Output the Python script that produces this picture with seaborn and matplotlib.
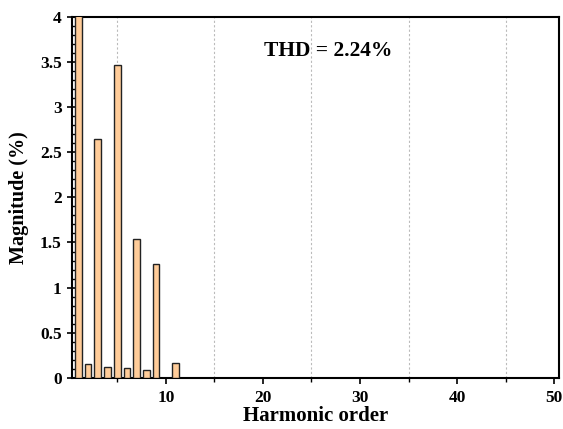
import matplotlib
matplotlib.use("Agg")
import matplotlib.pyplot as plt
import seaborn as sns
import pandas as pd
from matplotlib.ticker import MultipleLocator

harmonics = [1, 2, 3, 4, 5, 6, 7, 8, 9, 10, 11]
magnitude = [100.0, 0.15, 2.65, 0.12, 3.46, 0.11, 1.54, 0.09, 1.26, 0.0, 0.17]
x_ticks = [10, 20, 30, 40, 50]
y_ticks = [0, 0.5, 1, 1.5, 2, 2.5, 3, 3.5, 4]
y_ticklabels = ["0", "0.5", "1", "1.5", "2", "2.5", "3", "3.5", "4"]
thd_text = "THD = 2.24%"

sns.set_style("white")
plt.rcParams["font.family"] = ["Liberation Serif", "DejaVu Serif"]
plt.rcParams["font.weight"] = "bold"
for k in ["text.color", "axes.labelcolor", "xtick.color", "ytick.color"]:
    plt.rcParams[k] = "black"

df = pd.DataFrame({"h": harmonics, "m": magnitude})

fig = plt.figure(figsize=(5.63, 4.29), dpi=100)
ax = fig.add_axes([0.128, 0.119, 0.865, 0.842])

sns.barplot(data=df, x="h", y="m", native_scale=True, width=0.7,
            color="#FFCC99", saturation=1, edgecolor="#222222", linewidth=1.0,
            ax=ax, zorder=3)

ax.set_xlim(0.35, 50.5)
ax.set_ylim(0, 4)
ax.set_xticks(x_ticks)
ax.set_xticklabels([str(t) for t in x_ticks], fontsize=12.5, fontweight="bold")
ax.xaxis.set_minor_locator(MultipleLocator(5))
ax.set_yticks(y_ticks)
ax.set_yticklabels(y_ticklabels, fontsize=12.5, fontweight="bold")
ax.yaxis.set_minor_locator(MultipleLocator(0.1))

ax.tick_params(axis="x", which="major", direction="out", length=4, width=1.2, bottom=True, pad=5)
ax.tick_params(axis="x", which="minor", direction="out", length=3, width=1, bottom=True)
ax.tick_params(axis="y", which="major", direction="inout", length=7, width=1.2, left=True, pad=4)
ax.tick_params(axis="y", which="minor", direction="in", length=3, width=1, left=True)

ax.grid(False)
ax.grid(True, which="minor", axis="x", linestyle=(0, (2, 2)), color="#BBBBBB", linewidth=0.8, zorder=0)

for s in ax.spines.values():
    s.set_visible(True)
    s.set_color("black")
    s.set_linewidth(1.5)

ax.set_xlabel("Harmonic order", fontsize=15, fontweight="bold", labelpad=0)
ax.set_ylabel("Magnitude (%)", fontsize=14.5, fontweight="bold", labelpad=8)

ax.text(26.7, 3.62, thd_text, fontsize=15.5, fontweight="bold", ha="center", va="center", zorder=5)

fig.savefig("out.png", dpi=100)
